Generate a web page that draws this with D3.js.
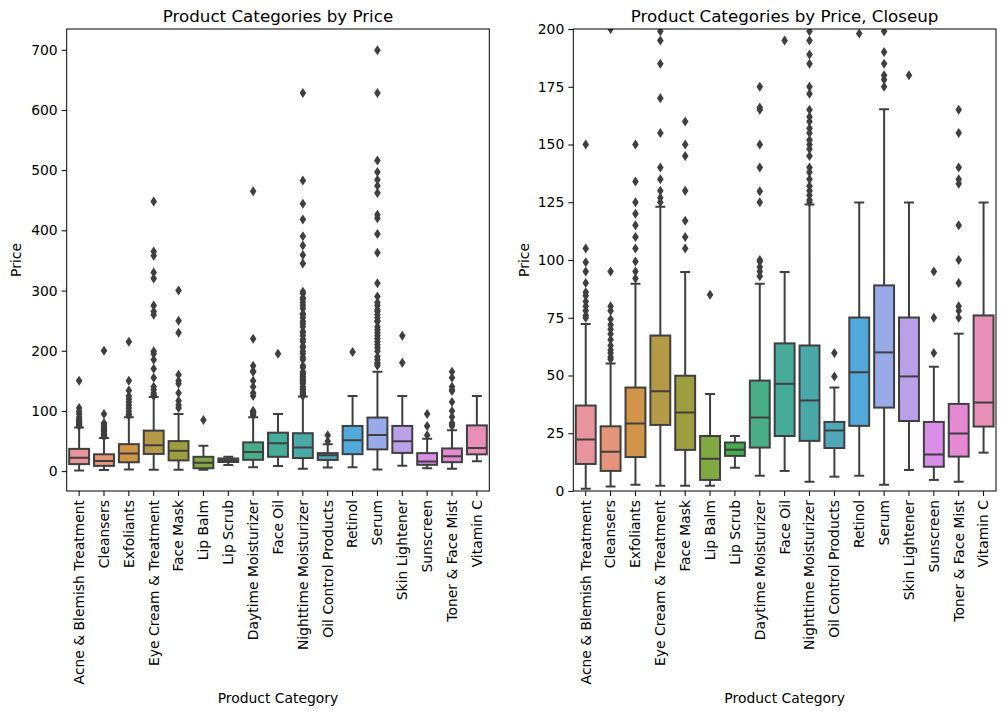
<!DOCTYPE html>
<html>
<head>
    <meta charset="utf-8">
    <script src="https://cdn.jsdelivr.net/npm/d3@7/dist/d3.min.js"></script>
    <style>
        body { margin: 0; background: #fff; }
        text { font-family: "DejaVu Sans", sans-serif; fill: #000; }
    </style>
</head>
<body>
    <svg id="chart" width="1005" height="715"></svg>
    <script>
        // categories and box statistics
        var categories = ["Acne & Blemish Treatment", "Cleansers", "Exfoliants", "Eye Cream & Treatment",
            "Face Mask", "Lip Balm", "Lip Scrub", "Daytime Moisturizer", "Face Oil", "Nighttime Moisturizer",
            "Oil Control Products", "Retinol", "Serum", "Skin Lightener", "Sunscreen", "Toner & Face Mist", "Vitamin C"];

        var whiskerLo = [1, 1.9, 2.7, 2.3, 2.3, 2.3, 10.1, 6.6, 8.7, 4, 6.2, 6.6, 2.7, 9.1, 4.8, 4, 16.6];
        var q1 = [11.7, 8.7, 14.7, 28.6, 17.8, 4.8, 15.2, 18.8, 23.8, 21.7, 18.6, 28.2, 36.1, 30.3, 10.5, 14.9, 27.9];
        var median = [22.3, 17, 29.2, 43.2, 34, 14, 17.9, 31.8, 46.4, 39.2, 26.2, 51.4, 60, 49.6, 15.8, 24.9, 38.3];
        var q3 = [37, 28, 44.8, 67.3, 49.9, 23.8, 21, 47.8, 63.9, 63, 29.9, 75.1, 89, 75.1, 29.9, 37.7, 76];
        var whiskerHi = [72.3, 55.2, 89.7, 123.1, 94.8, 42, 23.8, 89.7, 94.8, 124, 44.8, 124.9, 165.3, 124.9, 53.8, 68.1, 124.9];

        var outliers = [
            [75, 76, 78, 80, 82, 84.5, 86, 90, 95, 99, 105, 150],
            [57, 58, 59.7, 61, 63, 65.5, 68, 70, 72, 74.4, 78, 80, 95, 200],
            [92, 95, 99.4, 105, 110, 115, 120, 125, 134, 150, 215],
            [125, 127, 130, 135, 140, 155, 170, 185, 195, 199, 260, 265, 275, 320, 330, 358, 365, 448],
            [105, 110, 117, 130, 145, 150, 160, 230, 250, 300],
            [85],
            [],
            [93, 95, 97, 99.4, 100, 125, 129.8, 140, 150, 165, 166, 175, 220, 465],
            [195],
            [125, 126, 128, 130, 132, 135, 138, 140, 145, 148, 150, 152, 155, 157, 160, 162, 165, 172, 175, 185, 189, 195, 199,
             205, 208, 215, 219, 225, 230, 232, 240, 245, 249, 255, 260, 262, 270, 275, 280, 285, 288, 295, 298,
             345, 359, 375, 390, 418, 444, 483, 628],
            [49.6, 59.7],
            [198],
            [175, 178, 180, 185, 190, 199, 205, 210, 215, 220, 225, 230, 235, 240, 248, 250, 255, 260, 265, 268,
             275, 280, 290, 312, 363, 394, 420, 426, 462, 474, 484, 497, 516, 628, 699],
            [180, 225],
            [59.7, 75, 95],
            [75, 78, 80, 90, 100, 115, 133, 135, 140, 155, 165],
            []
        ];

        var leftTicks = [0, 100, 200, 300, 400, 500, 600, 700];
        var rightTicks = [0, 25, 50, 75, 100, 125, 150, 175, 200];

        // seaborn husl colours, desaturated
        var palette = ["#e8949f", "#e5967a", "#d09548", "#b49947", "#9c9e40", "#82a843", "#43ad50", "#48ad88",
            "#47ab9a", "#4aa9a8", "#4ea8b8", "#52a8d8", "#98aae8", "#b9a0e8", "#d98ee8", "#e589d3", "#e88fb8"];

        var lineColor = "#3f3f3f";
        var svg = d3.select("#chart");

        // note: "top" is taken by window.top
        var plotTop = 29, plotBottom = 491;

        function drawPanel(opts) {
            var g = svg.append("g");

            var x = d3.scaleBand()
                .domain(categories)
                .range([opts.left, opts.right])
                .paddingInner(0)
                .paddingOuter(0);

            var y = d3.scaleLinear()
                .domain(opts.domain)
                .range([plotBottom, plotTop]);

            // clip so the closeup cuts off at 200
            var clipId = "clip" + opts.id;
            svg.append("clipPath").attr("id", clipId)
                .append("rect")
                .attr("x", opts.left).attr("y", plotTop)
                .attr("width", opts.right - opts.left).attr("height", plotBottom - plotTop);

            var plot = g.append("g").attr("clip-path", "url(#" + clipId + ")");

            var bw = x.bandwidth() * 0.8;
            var mid = function(d) { return x(d) + x.bandwidth() / 2; };
            var boxes = plot.selectAll("g.box")
                .data(categories)
                .enter()
                .append("g")
                .attr("class", "box");

            // whiskers
            boxes.append("line")
                .attr("x1", mid).attr("x2", mid)
                .attr("y1", function(d, i) { return y(whiskerLo[i]); })
                .attr("y2", function(d, i) { return y(q1[i]); })
                .attr("stroke", lineColor).attr("stroke-width", 2);
            boxes.append("line")
                .attr("x1", mid).attr("x2", mid)
                .attr("y1", function(d, i) { return y(q3[i]); })
                .attr("y2", function(d, i) { return y(whiskerHi[i]); })
                .attr("stroke", lineColor).attr("stroke-width", 2);

            // caps
            [whiskerLo, whiskerHi].forEach(function(arr) {
                boxes.append("line")
                    .attr("x1", function(d) { return mid(d) - bw / 4; })
                    .attr("x2", function(d) { return mid(d) + bw / 4; })
                    .attr("y1", function(d, i) { return y(arr[i]); })
                    .attr("y2", function(d, i) { return y(arr[i]); })
                    .attr("stroke", lineColor).attr("stroke-width", 2);
            });

            // box
            boxes.append("rect")
                .attr("x", function(d) { return mid(d) - bw / 2; })
                .attr("width", bw)
                .attr("y", function(d, i) { return y(q3[i]); })
                .attr("height", function(d, i) { return y(q1[i]) - y(q3[i]); })
                .attr("fill", function(d, i) { return palette[i]; })
                .attr("stroke", lineColor).attr("stroke-width", 2);

            // median
            boxes.append("line")
                .attr("x1", function(d) { return mid(d) - bw / 2; })
                .attr("x2", function(d) { return mid(d) + bw / 2; })
                .attr("y1", function(d, i) { return y(median[i]); })
                .attr("y2", function(d, i) { return y(median[i]); })
                .attr("stroke", lineColor).attr("stroke-width", 2);

            // fliers as thin diamonds
            boxes.each(function(d, i) {
                var cx = mid(d);
                d3.select(this).selectAll("path.flier")
                    .data(outliers[i])
                    .enter()
                    .append("path")
                    .attr("class", "flier")
                    .attr("d", function(v) {
                        var cy = y(v);
                        return "M" + cx + "," + (cy - 5) + "L" + (cx + 3.3) + "," + cy +
                            "L" + cx + "," + (cy + 5) + "L" + (cx - 3.3) + "," + cy + "Z";
                    })
                    .attr("fill", lineColor);
            });

            // axes
            var xAxis = g.append("g")
                .attr("transform", "translate(0," + plotBottom + ")")
                .call(d3.axisBottom(x).tickSizeOuter(0).tickSize(5));
            xAxis.select(".domain").remove();
            xAxis.selectAll("text")
                .attr("transform", "rotate(-90)")
                .attr("x", -9).attr("y", 0).attr("dy", "0.35em")
                .style("text-anchor", "end")
                .style("font-size", "13.9px");

            var yAxis = g.append("g")
                .attr("transform", "translate(" + opts.left + ",0)")
                .call(d3.axisLeft(y).tickValues(opts.ticks).tickSize(5).tickPadding(4));
            yAxis.select(".domain").remove();
            yAxis.selectAll("text").style("font-size", "13.9px");

            // frame
            g.append("rect")
                .attr("x", opts.left).attr("y", plotTop)
                .attr("width", opts.right - opts.left).attr("height", plotBottom - plotTop)
                .attr("fill", "none").attr("stroke", "#000").attr("stroke-width", 1);

            // labels
            g.append("text")
                .attr("x", (opts.left + opts.right) / 2).attr("y", 22)
                .attr("text-anchor", "middle")
                .style("font-size", "16.7px")
                .text(opts.title);
            g.append("text")
                .attr("x", (opts.left + opts.right) / 2).attr("y", 703)
                .attr("text-anchor", "middle")
                .style("font-size", "13.9px")
                .text("Product Category");
            g.append("text")
                .attr("transform", "translate(" + opts.ylabelX + "," + (plotTop + plotBottom) / 2 + ") rotate(-90)")
                .attr("text-anchor", "middle")
                .style("font-size", "13.9px")
                .text("Price");
        }

        drawPanel({ id: "L", left: 66.7, right: 489.3, domain: [-33, 734.5], ticks: leftTicks,
            title: "Product Categories by Price", ylabelX: 21 });
        drawPanel({ id: "R", left: 573.3, right: 996, domain: [0, 200], ticks: rightTicks,
            title: "Product Categories by Price, Closeup", ylabelX: 529 });
    </script>
</body>
</html>
